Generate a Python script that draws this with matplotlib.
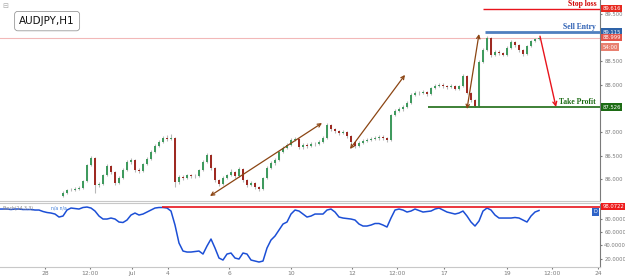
import matplotlib
matplotlib.use("Agg")
import matplotlib.pyplot as plt
import numpy as np

# AUDJPY H1 candles (open of each bar = previous close)
first_open = 85.650
closes = [85.708, 85.771, 85.771, 85.793, 85.814, 85.962, 86.301, 86.449, 85.877, 85.898,
          86.089, 86.280, 86.153, 85.920, 86.026, 86.195, 86.364, 86.407, 86.195, 86.174,
          86.322, 86.428, 86.576, 86.703, 86.788, 86.873, 86.852, 86.873, 85.941, 86.047,
          86.026, 86.089, 86.068, 86.068, 86.195, 86.364, 86.513, 86.237, 85.983, 85.898,
          86.026, 86.089, 86.153, 86.068, 86.216, 85.983, 85.877, 85.920, 85.835, 85.793,
          86.026, 86.237, 86.343, 86.407, 86.576, 86.661, 86.725, 86.831, 86.852, 86.682,
          86.725, 86.703, 86.746, 86.746, 86.788, 86.873, 87.149, 87.064, 87.021, 86.979,
          87.000, 86.915, 86.788, 86.703, 86.767, 86.809, 86.831, 86.852, 86.873, 86.894,
          86.873, 86.831, 87.360, 87.445, 87.487, 87.530, 87.615, 87.784, 87.827, 87.827,
          87.848, 87.805, 87.932, 87.975, 87.996, 87.975, 87.954, 87.975, 87.911, 87.975,
          88.186, 87.827, 87.678, 87.551, 88.483, 88.737, 88.992, 88.631, 88.695, 88.674,
          88.631, 88.780, 88.907, 88.843, 88.737, 88.653, 88.822, 88.928, 88.970, 88.999]
highs = [85.74, 85.80, 85.81, 85.83, 85.85, 85.99, 86.33, 86.50, 86.47, 85.95,
         86.12, 86.32, 86.30, 86.17, 86.06, 86.23, 86.40, 86.45, 86.42, 86.23,
         86.35, 86.46, 86.61, 86.74, 86.83, 86.92, 86.93, 86.95, 86.89, 86.08,
         86.08, 86.12, 86.12, 86.11, 86.22, 86.40, 86.56, 86.53, 86.26, 86.00,
         86.06, 86.12, 86.22, 86.17, 86.25, 86.23, 86.00, 85.97, 85.94, 85.86,
         86.05, 86.27, 86.38, 86.44, 86.61, 86.70, 86.76, 86.87, 86.90, 86.87,
         86.76, 86.76, 86.78, 86.79, 86.82, 86.91, 87.19, 87.17, 87.09, 87.05,
         87.04, 87.02, 86.93, 86.81, 86.80, 86.85, 86.87, 86.89, 86.91, 86.93,
         86.93, 86.89, 87.39, 87.48, 87.52, 87.57, 87.65, 87.82, 87.87, 87.86,
         87.89, 87.87, 87.96, 88.02, 88.04, 88.03, 88.00, 88.02, 87.99, 88.00,
         88.23, 88.20, 87.84, 87.70, 88.52, 88.78, 89.04, 89.01, 88.74, 88.73,
         88.70, 88.82, 88.95, 88.93, 88.86, 88.76, 88.85, 88.96, 89.00, 89.02]
lows = [85.62, 85.69, 85.74, 85.75, 85.77, 85.80, 85.94, 86.28, 85.71, 85.83,
        85.87, 86.06, 86.12, 85.88, 85.90, 86.00, 86.17, 86.33, 86.16, 86.13,
        86.15, 86.30, 86.40, 86.55, 86.68, 86.76, 86.81, 86.83, 85.84, 85.90,
        85.99, 86.00, 86.03, 86.03, 86.05, 86.17, 86.34, 86.20, 85.95, 85.86,
        85.87, 86.00, 86.07, 86.03, 86.05, 85.95, 85.84, 85.85, 85.80, 85.74,
        85.78, 86.00, 86.21, 86.31, 86.38, 86.55, 86.63, 86.70, 86.80, 86.65,
        86.65, 86.67, 86.68, 86.71, 86.72, 86.76, 86.85, 87.03, 86.98, 86.94,
        86.95, 86.88, 86.75, 86.66, 86.68, 86.74, 86.78, 86.80, 86.82, 86.84,
        86.83, 86.79, 86.81, 87.33, 87.42, 87.45, 87.50, 87.59, 87.76, 87.79,
        87.80, 87.77, 87.78, 87.91, 87.95, 87.94, 87.92, 87.93, 87.88, 87.89,
        87.95, 87.80, 87.64, 87.526, 87.53, 88.46, 88.71, 88.59, 88.60, 88.64,
        88.60, 88.61, 88.76, 88.81, 88.70, 88.62, 88.63, 88.80, 88.90, 88.95]

# stochastic line, one value per bar starting 16 bars before the first candle
stoch_start = -16
stoch = [94.5, 94.5, 94.5, 93.8, 94.5, 94.5, 93.8, 93.8, 93.8, 93.0,
         93.0, 90.8, 89.3, 88.5, 87.0, 82.5,
         84.0, 93.0, 96.0, 95.3, 94.5, 96.8, 97.5, 96.0, 91.5, 84.0,
         79.5, 79.5, 81.0, 79.5, 75.0, 74.3, 78.0, 85.5, 88.5, 85.5,
         87.0, 90.0, 93.0, 96.0, 96.8, 96.8, 96.0, 91.5, 70.5, 43.5,
         31.5, 30.0, 30.0, 30.8, 31.5, 27.0, 39.0, 49.5, 36.0, 21.0,
         18.0, 27.0, 28.5, 21.0, 19.5, 28.5, 27.0, 18.0, 16.5, 15.0,
         16.5, 36.0, 48.0, 54.0, 63.0, 72.0, 75.0, 87.0, 93.0, 91.5,
         87.0, 82.5, 84.0, 87.0, 87.0, 87.0, 93.0, 94.5, 90.0, 82.5,
         81.0, 80.3, 79.5, 78.0, 72.0, 69.0, 69.0, 70.5, 72.8, 72.8,
         70.5, 67.5, 81.0, 93.0, 94.5, 93.0, 90.0, 91.5, 94.5, 92.3,
         90.0, 90.8, 91.5, 94.5, 96.0, 93.0, 90.0, 88.5, 87.0, 88.5,
         91.5, 84.0, 75.0, 69.0, 76.5, 91.5, 96.0, 93.0, 85.5, 81.0,
         81.0, 81.0, 81.0, 81.8, 81.0, 78.0, 75.0, 84.0, 90.0, 92.3]

tick_pos = [-4.5, 6.75, 17.25, 26.25, 41.5, 57, 72.25, 83.5, 95.25, 111, 122.25, 133.75]
tick_labels = ['28', '12:00', 'Jul', '4', '6', '10', '12', '12:00', '17', '19', '12:00', '24']

price_ticks = [86.0, 86.5, 87.0, 88.0, 88.5, 89.5]
stoch_ticks = [20, 40, 60, 80]

stop_loss = 89.616
sell_entry = 89.115
take_profit = 87.526
last_price = 88.999
stoch_level = 98.0722

# trade arrows: (x0, y0, x1, y1) in bar index / price
swing_arrows = [(36.75, 85.644, 64.75, 87.19),
                (71.75, 86.64, 85.5, 88.21),
                (101.0, 87.487, 104.0, 89.076)]
target_arrow = (119.25, 89.03, 123.25, 87.53)

XLIM = (-15.75, 134.25)
GRAY = '#7a7a7a'
BULL = '#3f9a5e'
BEAR = '#9e2a22'
WICK = '#b8b8b8'
FS = 3.8

fig = plt.figure(figsize=(6.25, 2.76), dpi=100)
ax = fig.add_axes([0, 1 - 201 / 276, 0.96, 201 / 276])
ax2 = fig.add_axes([0, 1 - 267 / 276, 0.96, 64 / 276])

# ---- price panel ----
c = np.array(closes)
o = np.array([first_open] + closes[:-1])
x = np.arange(len(c))
up = c >= o
ax.vlines(x, lows, highs, color=WICK, lw=0.8, zorder=2)
body_h = np.maximum(np.abs(c - o), 0.006)
ax.bar(x[up], body_h[up], bottom=np.minimum(o, c)[up], width=0.55, color=BULL, lw=0, zorder=3)
ax.bar(x[~up], body_h[~up], bottom=np.minimum(o, c)[~up], width=0.55, color=BEAR, lw=0, zorder=3)

ax.axhline(last_price, color='#f2b8b8', lw=0.8, zorder=1)
ax.hlines(stop_loss, 105, XLIM[1], color='#e8141c', lw=1.0, zorder=4)
ax.hlines(sell_entry, 105.5, XLIM[1], color='#4f7fbf', lw=2.0, zorder=4)
ax.hlines(take_profit, 91.25, XLIM[1], color='#1c6b14', lw=1.2, zorder=4)

lab = dict(ha='right', va='bottom', fontsize=5.5, fontweight='bold', family='Liberation Serif')
ax.text(133.3, stop_loss + 0.02, 'Stop loss', color='#d00000', **lab)
ax.text(133.3, sell_entry + 0.02, 'Sell Entry', color='#2c5fb3', **lab)
ax.text(133.3, take_profit + 0.02, 'Take Profit', color='#1c6b14', **lab)

for x0, y0, x1, y1 in swing_arrows:
    ax.annotate('', xy=(x1, y1), xytext=(x0, y0),
                arrowprops=dict(arrowstyle='<->', color='#8b4513', lw=0.9,
                                mutation_scale=6, shrinkA=0, shrinkB=0), zorder=5)
x0, y0, x1, y1 = target_arrow
ax.annotate('', xy=(x1, y1), xytext=(x0, y0),
            arrowprops=dict(arrowstyle='->', color='#e8141c', lw=1.0,
                            mutation_scale=7, shrinkA=0, shrinkB=0), zorder=5)

ax.set_xlim(*XLIM)
ax.set_ylim(85.538, 89.797)
ax.yaxis.tick_right()
ax.set_yticks(price_ticks)
ax.set_yticklabels([f'{v:.3f}' for v in price_ticks])
ax.tick_params(axis='y', labelsize=FS, labelcolor=GRAY, length=1.5, color=GRAY, pad=1.5)
ax.set_xticks([])
for s in ['top', 'left']:
    ax.spines[s].set_visible(False)
ax.spines['right'].set_color(GRAY)
ax.spines['right'].set_linewidth(0.8)
ax.spines['bottom'].set_color('#c8c8c8')
ax.spines['bottom'].set_linewidth(0.8)

ytr = ax.get_yaxis_transform()
box = dict(boxstyle='square,pad=0.25', lw=0)
for val, txt, col in [(stop_loss, f'{stop_loss:.3f}', '#e8281e'),
                      (sell_entry, f'{sell_entry:.3f}', '#2e63a8'),
                      (last_price, f'{last_price:.3f}', '#e2554a'),
                      (88.80, '54:00', '#e88070'),
                      (take_profit, f'{take_profit:.3f}', '#1c6b14')]:
    ax.text(1.004, val, txt, transform=ytr, ha='left', va='center', fontsize=FS,
            color='white', bbox=dict(fc=col, **box), clip_on=False, zorder=10)

ax.text(0.0785, 0.895, 'AUDJPY,H1', transform=ax.transAxes, ha='center', va='center',
        fontsize=7.5, color='#111111', zorder=10,
        bbox=dict(boxstyle='round,pad=0.45,rounding_size=0.3', fc='white', ec='#9a9a9a', lw=0.6))
ax.text(0.004, 0.985, '\u229f', transform=ax.transAxes, ha='left', va='top',
        fontsize=5, color='#aaaaaa')

# ---- stochastic panel ----
sx = np.arange(stoch_start, stoch_start + len(stoch))
ax2.plot(sx, stoch, color='#1c4fd6', lw=1.1, zorder=3)
ax2.hlines(stoch_level, 24.75, XLIM[1], color='#e8141c', lw=1.2, zorder=4)
ax2.set_xlim(*XLIM)
ax2.set_ylim(7.55, 103.55)
ax2.yaxis.tick_right()
ax2.set_yticks(stoch_ticks)
ax2.set_yticklabels([f'{v:.4f}' for v in stoch_ticks])
ax2.tick_params(axis='y', labelsize=FS, labelcolor=GRAY, length=1.5, color=GRAY, pad=1.5)
ax2.set_xticks(tick_pos)
ax2.set_xticklabels(tick_labels)
ax2.tick_params(axis='x', labelsize=4.3, labelcolor=GRAY, length=1.5, color=GRAY, pad=1.5)
ax2.spines['left'].set_visible(False)
for s in ['top', 'bottom']:
    ax2.spines[s].set_color('#c8c8c8')
    ax2.spines[s].set_linewidth(0.8)
ax2.spines['right'].set_color(GRAY)
ax2.spines['right'].set_linewidth(0.8)

ytr2 = ax2.get_yaxis_transform()
ax2.text(1.004, stoch_level, f'{stoch_level:.4f}', transform=ytr2, ha='left', va='center',
         fontsize=FS, color='white', bbox=dict(fc='#ee1c1c', **box), clip_on=False, zorder=10)
ax2.text(0.992, 0.86, 'D', transform=ax2.transAxes, ha='center', va='center', fontsize=3.5,
         color='white', bbox=dict(boxstyle='square,pad=0.3', fc='#2e63c8', lw=0), zorder=10)
ax2.text(0.004, 0.92, 'Stoch(14,3,3)', transform=ax2.transAxes, ha='left', va='center',
         fontsize=3.3, color='#888888')
ax2.text(0.085, 0.92, 'n/a n/a', transform=ax2.transAxes, ha='left', va='center',
         fontsize=3.3, color='#3a7ad8')

fig.savefig('out.png', dpi=100)
